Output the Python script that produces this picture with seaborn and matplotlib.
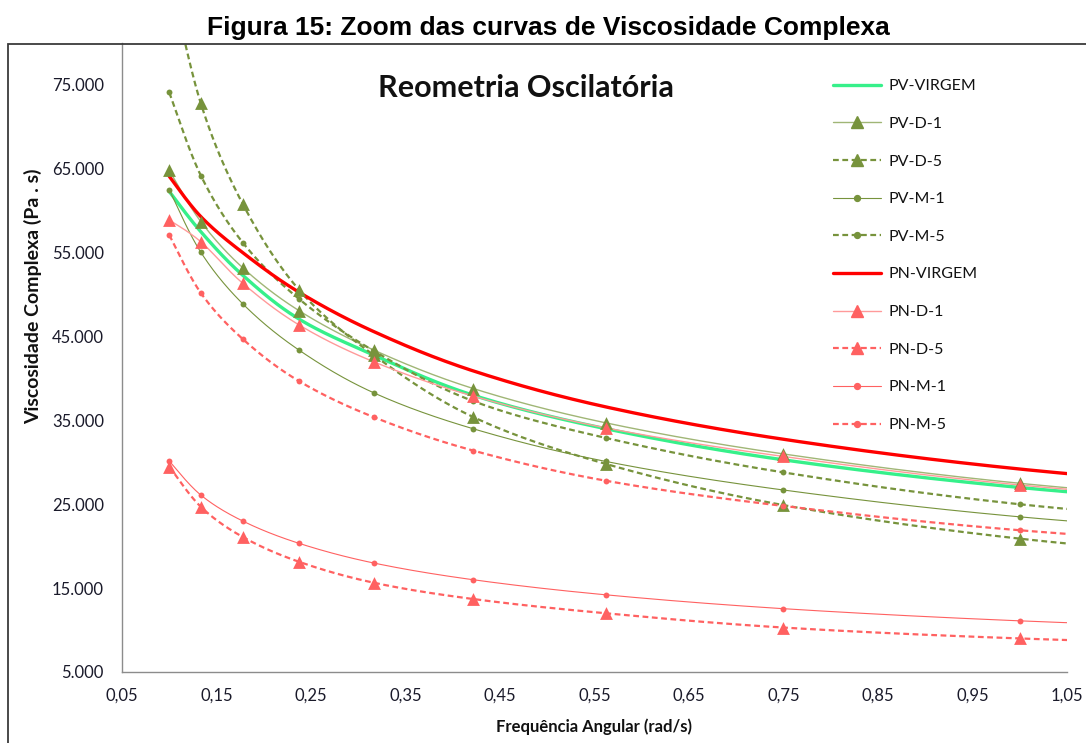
import numpy as np
import pandas as pd
import matplotlib
matplotlib.use("Agg")
import matplotlib.pyplot as plt
import matplotlib.patches as mpatches
from matplotlib.lines import Line2D
import seaborn as sns

# Angular frequency (rad/s) and complex viscosity (Pa.s) per sample
freq = [0.1, 0.1334, 0.1778, 0.2371, 0.3162, 0.4217, 0.5623, 0.7499, 1.0, 1.3335]

pv_virgem = [62300, 57500, 52300, 47100, 42800, 38000, 34000, 30300, 27000, 24000]
pv_d1 = [64800, 58700, 53200, 48100, 43400, 38800, 34700, 31000, 27500, 24400]
pv_d5 = [88500, 72800, 60800, 50600, 42800, 35400, 29800, 24900, 20900, 17600]
pv_m1 = [62500, 55050, 48900, 43400, 38300, 34000, 30100, 26700, 23500, 20700]
pv_m5 = [74100, 64200, 56200, 49500, 43300, 37300, 32900, 28800, 25000, 21800]
pn_virgem = [64100, 59300, 55000, 50300, 45600, 40900, 36600, 32750, 29200, 26000]
pn_d1 = [58900, 56300, 51350, 46400, 42000, 37900, 34100, 30700, 27300, 24300]
pn_d5 = [29500, 24700, 21100, 18150, 15650, 13700, 12000, 10300, 9000, 7900]
pn_m1 = [30150, 26100, 23000, 20350, 18000, 16000, 14200, 12550, 11100, 9800]
pn_m5 = [57100, 50200, 44700, 39700, 35400, 31400, 27800, 24800, 21900, 19400]

series_names = ["PV-VIRGEM", "PV-D-1", "PV-D-5", "PV-M-1", "PV-M-5",
                "PN-VIRGEM", "PN-D-1", "PN-D-5", "PN-M-1", "PN-M-5"]
series_values = [pv_virgem, pv_d1, pv_d5, pv_m1, pv_m5,
                 pn_virgem, pn_d1, pn_d5, pn_m1, pn_m5]

x_ticks = [0.05, 0.15, 0.25, 0.35, 0.45, 0.55, 0.65, 0.75, 0.85, 0.95, 1.05]
x_tick_labels = ["0,05", "0,15", "0,25", "0,35", "0,45", "0,55", "0,65",
                 "0,75", "0,85", "0,95", "1,05"]
y_ticks = [5000, 15000, 25000, 35000, 45000, 55000, 65000, 75000]
y_tick_labels = ["5.000", "15.000", "25.000", "35.000", "45.000",
                 "55.000", "65.000", "75.000"]

OLIVE = "#77933C"
OLIVE_LIGHT = "#A0B676"
SALMON = "#FF6161"
PINK = "#FF9A9A"
DASH = (0, (2.6, 1.6))

# line colour, line width, dash, marker, marker colour, marker size (pt^2)
styles = {
    "PV-VIRGEM": dict(color="#36F08A", lw=2.4, ls="-", marker=None, mc=None, ms=0),
    "PV-D-1": dict(color=OLIVE_LIGHT, lw=1.0, ls="-", marker="^", mc=OLIVE, ms=85),
    "PV-D-5": dict(color=OLIVE, lw=1.6, ls=DASH, marker="^", mc=OLIVE, ms=85),
    "PV-M-1": dict(color=OLIVE, lw=0.8, ls="-", marker="o", mc=OLIVE, ms=18),
    "PV-M-5": dict(color=OLIVE, lw=1.6, ls=DASH, marker="o", mc=OLIVE, ms=18),
    "PN-VIRGEM": dict(color="#FF0000", lw=2.4, ls="-", marker=None, mc=None, ms=0),
    "PN-D-1": dict(color=PINK, lw=1.0, ls="-", marker="^", mc=SALMON, ms=85),
    "PN-D-5": dict(color=SALMON, lw=1.6, ls=DASH, marker="^", mc=SALMON, ms=85),
    "PN-M-1": dict(color=SALMON, lw=0.8, ls="-", marker="o", mc=SALMON, ms=18),
    "PN-M-5": dict(color=SALMON, lw=1.6, ls=DASH, marker="o", mc=SALMON, ms=18),
}


def smooth_curve(xs, ys, n=40):
    """Bezier smoothing with 1/6 tangents (spreadsheet-style smoothed line)."""
    p = np.column_stack([xs, ys]).astype(float)
    p = np.vstack([p[0], p, p[-1]])
    t = np.linspace(0, 1, n, endpoint=False)[:, None]
    out = []
    for i in range(1, len(p) - 2):
        p0, p1, p2, p3 = p[i - 1], p[i], p[i + 1], p[i + 2]
        c1 = p1 + (p2 - p0) / 6.0
        c2 = p2 - (p3 - p1) / 6.0
        seg = ((1 - t) ** 3) * p1 + 3 * ((1 - t) ** 2) * t * c1 \
            + 3 * (1 - t) * (t ** 2) * c2 + (t ** 3) * p2
        out.append(seg)
    out.append(p[-2][None, :])
    out = np.vstack(out)
    return out[:, 0], out[:, 1]


sns.set_style("white")
plt.rcParams["font.family"] = ["Lato", "DejaVu Sans"]

W, H = 1086, 743
fig = plt.figure(figsize=(W / 100, H / 100), dpi=100)
ax = fig.add_axes([122 / W, 1 - 672 / H, (1067 - 122) / W, (672 - 43) / H])

points = pd.DataFrame({
    "freq": np.tile(freq, len(series_names)),
    "visc": np.concatenate(series_values),
    "serie": np.repeat(series_names, len(freq)),
})

handles = []
for name in series_names:
    st = styles[name]
    sub = points[points["serie"] == name]
    sx, sy = smooth_curve(sub["freq"].to_numpy(), sub["visc"].to_numpy())
    sns.lineplot(x=sx, y=sy, ax=ax, color=st["color"], lw=st["lw"],
                 linestyle=st["ls"], sort=False, estimator=None, legend=False)
    if st["marker"]:
        sns.scatterplot(data=sub, x="freq", y="visc", ax=ax, marker=st["marker"],
                        color=st["mc"], s=st["ms"], linewidth=0, legend=False,
                        zorder=5)
    handles.append(Line2D([0], [0], color=st["color"], lw=st["lw"], linestyle=st["ls"],
                          marker=st["marker"] if st["marker"] else None,
                          markerfacecolor=st["mc"], markeredgecolor=st["mc"],
                          markersize=np.sqrt(st["ms"]) if st["ms"] else 0))

ax.set_xlim(0.05, 1.05)
ax.set_ylim(5000, 80000)
ax.set_xticks(x_ticks)
ax.set_xticklabels(x_tick_labels)
ax.set_yticks(y_ticks)
ax.set_yticklabels(y_tick_labels)
ax.tick_params(axis="both", labelsize=12, colors="#1a1a2a", length=5,
               width=0.9, direction="out")
ax.tick_params(axis="both", color="#8c8c8c")
ax.tick_params(axis="x", pad=6)
ax.tick_params(axis="y", pad=8)
for side in ["top", "right"]:
    ax.spines[side].set_visible(False)
for side in ["left", "bottom"]:
    ax.spines[side].set_color("#8c8c8c")
    ax.spines[side].set_linewidth(1.0)

ax.set_xlabel("Frequência Angular (rad/s)", fontsize=12, fontweight="bold",
              color="#111111")
ax.xaxis.set_label_coords(0.5, -(727 - 672) / (672 - 43))
ax.set_ylabel("Viscosidade Complexa (Pa . s)", fontsize=14, fontweight="bold",
              color="#111111")
ax.yaxis.set_label_coords(-(122 - 33) / (1067 - 122), (672 - 296) / (672 - 43))
ax.yaxis.label.set_verticalalignment("center")
ax.xaxis.label.set_verticalalignment("center")

fig.text(526 / W, 1 - 88 / H, "Reometria Oscilatória", fontsize=22,
         fontweight="bold", color="#111111", ha="center", va="center")

leg = ax.legend(handles, series_names, loc="upper left",
                bbox_to_anchor=((833 - 122) / (1067 - 122), (672 - 79) / (672 - 43)),
                frameon=False, fontsize=11.5, handlelength=3.0, handletextpad=0.45,
                labelspacing=1.47, borderpad=0, borderaxespad=0)
for t in leg.get_texts():
    t.set_color("#111111")

# outer chart frame (open to the right and bottom)
frame = mpatches.Rectangle((8 / W, -0.2), 2.0, (1 - 44 / H) + 0.2,
                           transform=fig.transFigure, fill=False,
                           edgecolor="#3a3a3a", lw=1.3, zorder=0)
fig.patches.append(frame)

fig.text(548 / W, 1 - 28 / H, "Figura 15: Zoom das curvas de Viscosidade Complexa",
         family=["Liberation Sans", "DejaVu Sans"], fontweight="bold", fontsize=19,
         ha="center", va="center", color="#000000")

fig.savefig("out.png", dpi=100)
